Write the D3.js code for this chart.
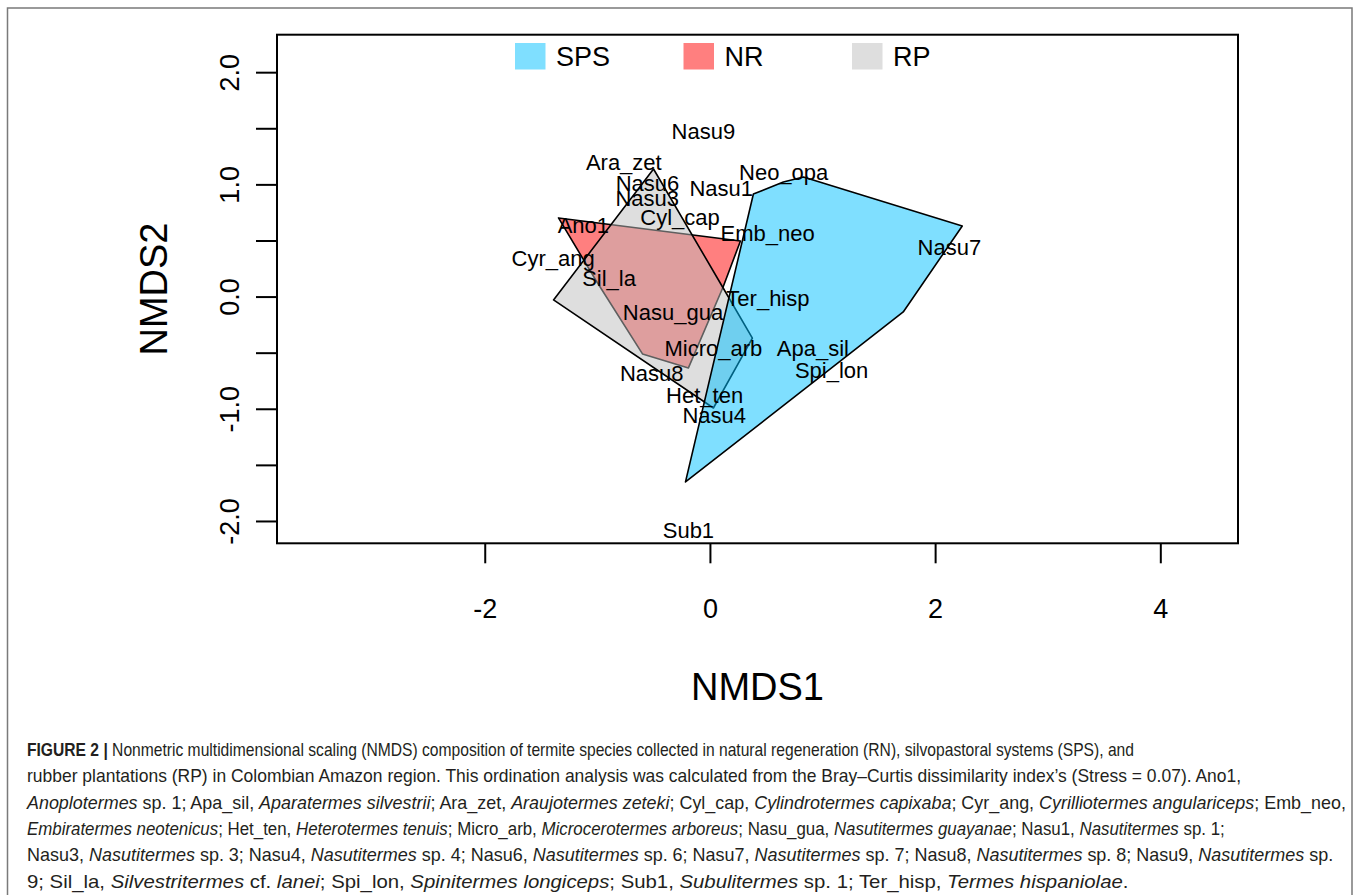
<!DOCTYPE html>
<html><head><meta charset="utf-8">
<script src="https://cdn.jsdelivr.net/npm/d3@7"></script>
<style>
body{margin:0;background:#fff;}
svg{display:block;font-family:"Liberation Sans",Arial,Helvetica,sans-serif;}
</style>
</head><body>
<svg id="chart" width="1360" height="895"></svg>
<script>
// ---------------- data ----------------
const groups = ["SPS", "NR", "RP"];
const groupFills = ["rgba(0,191,255,0.5)", "rgba(255,0,0,0.5)", "rgba(190,190,190,0.5)"];
// convex hulls (NMDS1, NMDS2) of the site scores of each land use
const hullSPS = [[0.386, 0.914], [0.652, 1.021], [0.830, 1.066], [2.241, 0.629], [1.717, -0.137], [-0.217, -1.652]];
const hullNR  = [[-1.345, 0.701], [0.271, 0.496], [0.117, 0.085], [-0.191, -0.636], [-0.599, -0.511], [-1.016, 0.150]];
const hullRP  = [[-0.501, 1.137], [0.115, 0.081], [0.377, -0.370], [0.031, -0.993], [-1.389, -0.030]];
// species scores
const species = ["Nasu9","Ara_zet","Nasu6","Nasu3","Nasu1","Neo_opa","Cyl_cap","Ano1","Emb_neo","Nasu7","Cyr_ang","Sil_la","Ter_hisp","Nasu_gua","Micro_arb","Apa_sil","Spi_lon","Nasu8","Het_ten","Nasu4","Sub1"];
const speciesX = [-0.058, -0.765, -0.555, -0.557, 0.100, 0.655, -0.265, -1.124, 0.512, 2.127, -1.393, -0.896, 0.515, -0.328, 0.031, 0.914, 1.081, -0.517, -0.047, 0.038, -0.191];
const speciesY = [1.476, 1.202, 1.015, 0.876, 0.971, 1.108, 0.707, 0.638, 0.564, 0.445, 0.341, 0.163, -0.015, -0.140, -0.461, -0.461, -0.654, -0.684, -0.877, -1.055, -2.080];
const xTicks = [-2, 0, 2, 4];
const xTickLabels = ["-2", "0", "2", "4"];
const yTicks = [-2, -1.5, -1, -0.5, 0, 0.5, 1, 1.5, 2];
const yTickLabels = ["-2.0", "", "-1.0", "", "0.0", "", "1.0", "", "2.0"];
const xTitle = "NMDS1", yTitle = "NMDS2";
const captionLines = [
  [["FIGURE 2 | ", "b"], ["Nonmetric multidimensional scaling (NMDS) composition of termite species collected in natural regeneration (RN), silvopastoral systems (SPS), and", "n"]],
  [["rubber plantations (RP) in Colombian Amazon region. This ordination analysis was calculated from the Bray\u2013Curtis dissimilarity index\u2019s (Stress = 0.07). Ano1,", "n"]],
  [["Anoplotermes", "i"], [" sp. 1; Apa_sil, ", "n"], ["Aparatermes silvestrii", "i"], ["; Ara_zet, ", "n"], ["Araujotermes zeteki", "i"], ["; Cyl_cap, ", "n"], ["Cylindrotermes capixaba", "i"], ["; Cyr_ang, ", "n"], ["Cyrilliotermes angulariceps", "i"], ["; Emb_neo,", "n"]],
  [["Embiratermes neotenicus", "i"], ["; Het_ten, ", "n"], ["Heterotermes tenuis", "i"], ["; Micro_arb, ", "n"], ["Microcerotermes arboreus", "i"], ["; Nasu_gua, ", "n"], ["Nasutitermes guayanae", "i"], ["; Nasu1, ", "n"], ["Nasutitermes", "i"], [" sp. 1;", "n"]],
  [["Nasu3, ", "n"], ["Nasutitermes", "i"], [" sp. 3; Nasu4, ", "n"], ["Nasutitermes", "i"], [" sp. 4; Nasu6, ", "n"], ["Nasutitermes", "i"], [" sp. 6; Nasu7, ", "n"], ["Nasutitermes", "i"], [" sp. 7; Nasu8, ", "n"], ["Nasutitermes", "i"], [" sp. 8; Nasu9, ", "n"], ["Nasutitermes", "i"], [" sp.", "n"]],
  [["9; Sil_la, ", "n"], ["Silvestritermes", "i"], [" cf. ", "n"], ["lanei", "i"], ["; Spi_lon, ", "n"], ["Spinitermes longiceps", "i"], ["; Sub1, ", "n"], ["Subulitermes", "i"], [" sp. 1; Ter_hisp, ", "n"], ["Termes hispaniolae", "i"], [".", "n"]]
];

// ---------------- layout ----------------
const svg = d3.select("#chart");
const L = 277, R = 1238, T = 34.7, B = 543.3;
const x = d3.scaleLinear().domain([-3.845, 4.69]).range([L, R]);
const y = d3.scaleLinear().domain([-2.199, 2.334]).range([B, T]);

// figure frame
svg.append("path").attr("d", "M7.5,895 V8 H1352 V895")
  .attr("fill", "none").attr("stroke", "#7a7a7a").attr("stroke-width", 1.5);

// hulls: draw order NR, RP, SPS
const hulls = {SPS: hullSPS, NR: hullNR, RP: hullRP};
const drawOrder = ["NR", "RP", "SPS"];
const line = d3.line().x(d => x(d[0])).y(d => y(d[1])).curve(d3.curveLinearClosed);
svg.append("g").selectAll("path").data(drawOrder).join("path")
  .attr("d", g => line(hulls[g]))
  .attr("fill", g => groupFills[groups.indexOf(g)])
  .attr("stroke", "#000").attr("stroke-width", 1.6).attr("stroke-linejoin", "round");

// species labels
svg.append("g").selectAll("text").data(species).join("text")
  .attr("x", (d, i) => x(speciesX[i]))
  .attr("y", (d, i) => y(speciesY[i]))
  .attr("dy", "0.36em")
  .attr("text-anchor", "middle")
  .attr("font-size", 22)
  .attr("fill", "#000")
  .text(d => d);

// plot box
svg.append("rect").attr("x", L).attr("y", T).attr("width", R - L).attr("height", B - T)
  .attr("fill", "none").attr("stroke", "#000").attr("stroke-width", 2);

// x axis
const gx = svg.append("g").attr("transform", `translate(0,${B})`)
  .call(d3.axisBottom(x).tickValues(xTicks).tickSize(20).tickFormat((d, i) => xTickLabels[i]));
gx.select(".domain").remove();
gx.selectAll(".tick line").attr("stroke", "#000").attr("stroke-width", 2);
gx.selectAll(".tick text").attr("y", 75).attr("dy", 0).attr("font-size", 27)
  .attr("font-family", "Liberation Sans, Arial, sans-serif").attr("fill", "#000");

// y axis
const gy = svg.append("g").attr("transform", `translate(${L},0)`)
  .call(d3.axisLeft(y).tickValues(yTicks).tickSize(21).tickFormat((d, i) => yTickLabels[i]));
gy.select(".domain").remove();
gy.selectAll(".tick line").attr("stroke", "#000").attr("stroke-width", 2);
gy.selectAll(".tick text").attr("x", 0).attr("dy", 0).attr("text-anchor", "middle")
  .attr("transform", "translate(-38,0) rotate(-90)")
  .attr("font-size", 27).attr("font-family", "Liberation Sans, Arial, sans-serif").attr("fill", "#000");

// axis titles
svg.append("text").attr("x", (L + R) / 2).attr("y", 700).attr("text-anchor", "middle")
  .attr("font-size", 38).text(xTitle);
svg.append("text").attr("transform", `translate(167,${(T + B) / 2}) rotate(-90)`)
  .attr("text-anchor", "middle").attr("font-size", 38).text(yTitle);

// legend
const lg = svg.append("g").selectAll("g").data(groups).join("g")
  .attr("transform", (d, i) => `translate(${515 + i * 168.5},43)`);
lg.append("rect").attr("width", 30.5).attr("height", 26.5).attr("fill", (d, i) => groupFills[i]);
lg.append("text").attr("x", 41).attr("y", 23).attr("font-size", 27).text(d => d);

// caption
const capRight = [1135, 1242, 1347, 1225, 1334, 1129];
const cap = svg.append("g").attr("font-size", 18).attr("fill", "#231f20")
  .attr("font-family", "'Liberation Sans Narrow','Liberation Sans',Arial,sans-serif");
captionLines.forEach((segs, li) => {
  const t = cap.append("text").attr("x", 27).attr("y", 756 + li * 26.35);
  segs.forEach(s => {
    const ts = t.append("tspan").text(s[0]);
    if (s[1] === "b") ts.attr("font-weight", "bold");
    if (s[1] === "i") ts.attr("font-style", "italic");
  });
  const w = t.node().getComputedTextLength();
  const k = (capRight[li] - 27) / w;
  t.attr("transform", `translate(27,0) scale(${k},1) translate(-27,0)`);
});
</script>
</body></html>
